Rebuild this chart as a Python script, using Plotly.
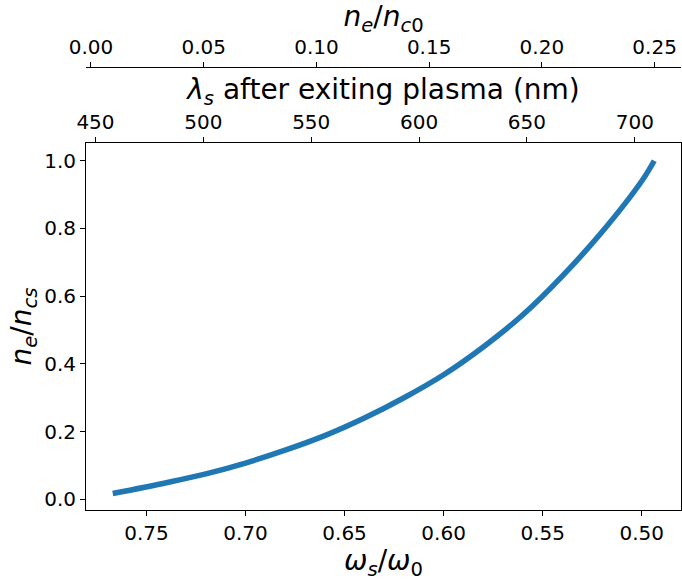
import plotly.graph_objects as go

# Data
omega_ratio = [0.767, 0.74, 0.72, 0.70, 0.68, 0.66, 0.64, 0.62, 0.60, 0.58, 0.56, 0.54, 0.52, 0.50, 0.4937]
ne_ncs      = [0.017, 0.049, 0.075, 0.107, 0.145, 0.188, 0.240, 0.300, 0.368, 0.450, 0.545, 0.660, 0.790, 0.940, 1.000]

x_ticks = [0.75, 0.70, 0.65, 0.60, 0.55, 0.50]
y_ticks = [0.0, 0.2, 0.4, 0.6, 0.8, 1.0]
lam_ticks = [450, 500, 550, 600, 650, 700]
nc0_ticks = [0.00, 0.05, 0.10, 0.15, 0.20, 0.25]

FONT = "DejaVu Sans"
TICKF = dict(family=FONT, size=20, color="black")
TITLEF = dict(family=FONT, size=28, color="black")

fig = go.Figure()
fig.add_trace(go.Scatter(x=omega_ratio, y=ne_ncs, mode="lines",
                         line=dict(color="#1f77b4", width=5.5, shape="spline", smoothing=1),
                         xaxis="x", yaxis="y", showlegend=False))
fig.add_trace(go.Scatter(x=lam_ticks, y=[None] * len(lam_ticks), mode="markers",
                         xaxis="x2", yaxis="y", showlegend=False, hoverinfo="skip"))
fig.add_trace(go.Scatter(x=nc0_ticks, y=[None] * len(nc0_ticks), mode="markers",
                         xaxis="x3", yaxis="y", showlegend=False, hoverinfo="skip"))

common = dict(showgrid=False, zeroline=False, ticks="outside", ticklen=5, tickwidth=1,
              tickcolor="black", showline=True, linecolor="black", linewidth=1,
              tickfont=TICKF)

fig.update_layout(
    width=682, height=581,
    margin=dict(l=86, r=1, t=67, b=71),
    plot_bgcolor="white", paper_bgcolor="white",
    xaxis=dict(range=[0.7805, 0.4802], domain=[0, 1], anchor="y", mirror=True,
               tickvals=x_ticks, ticktext=[f"{v:.2f}" for v in x_ticks],
               title=dict(text="<i>ω</i><sub><i>s</i></sub>/<i>ω</i><sub>0</sub>",
                          font=TITLEF, standoff=2),
               **common),
    yaxis=dict(range=[-0.0316, 1.0523], domain=[0, 0.8284], anchor="x", mirror=True,
               tickvals=y_ticks, ticktext=[f"{v:.1f}" for v in y_ticks],
               title=dict(text="<i>n</i><sub><i>e</i></sub>/<i>n</i><sub><i>cs</i></sub>",
                          font=TITLEF, standoff=4),
               **common),
    xaxis2=dict(range=[445.6, 721.4], overlaying="x", side="top", anchor="y",
                tickvals=lam_ticks, ticktext=[str(v) for v in lam_ticks],
                title=dict(text="<i>λ</i><sub><i>s</i></sub> after exiting plasma (nm)",
                           font=TITLEF, standoff=2),
                **common),
    xaxis3=dict(range=[-0.0022, 0.2617], overlaying="x", side="top", anchor="free",
                position=1,
                tickvals=nc0_ticks, ticktext=[f"{v:.2f}" for v in nc0_ticks],
                title=dict(text="<i>n</i><sub><i>e</i></sub>/<i>n</i><sub><i>c</i>0</sub>",
                           font=TITLEF, standoff=2),
                **common),
)

fig.write_html("out.html")
